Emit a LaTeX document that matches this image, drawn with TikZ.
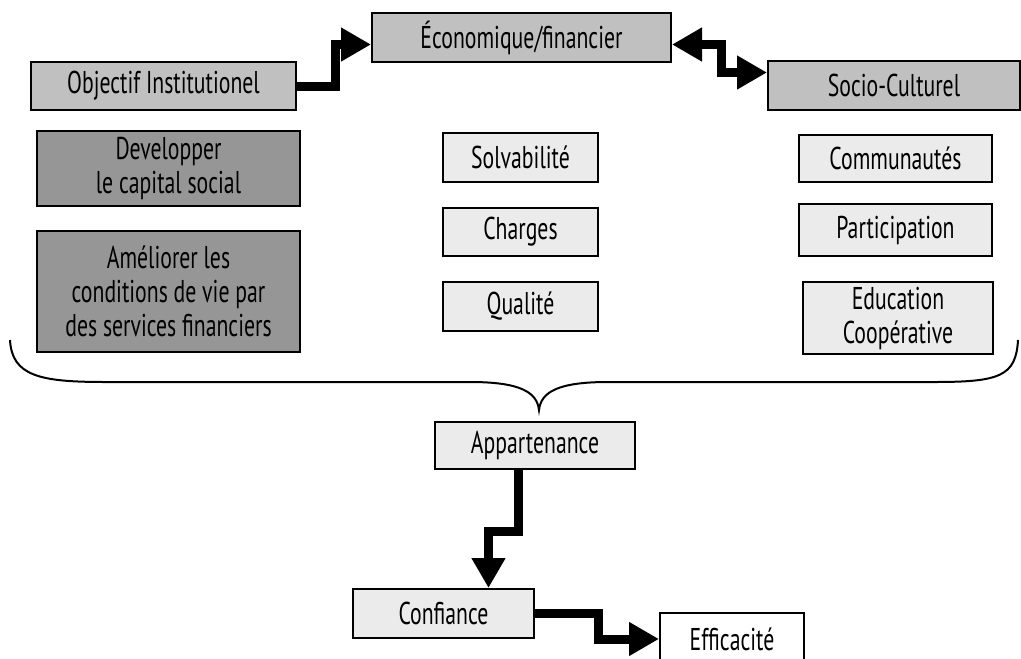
\documentclass[tikz,border=0pt]{standalone}
\usepackage{fontspec}
\setmainfont[FakeStretch=0.69]{PT Sans}
\usetikzlibrary{arrows.meta,positioning}
\definecolor{headgray}{HTML}{C0C0C0}
\definecolor{goalgray}{HTML}{969696}
\definecolor{palegray}{HTML}{EBEBEB}
\definecolor{ink}{HTML}{000000}
\tikzset{
  basebox/.style={
    draw=ink,
    line width=2pt,
    inner sep=0pt,
    align=center,
    font=\fontsize{31.5}{34}\selectfont
  },
  headbox/.style={basebox, fill=headgray, minimum height=49pt},
  goalbox/.style={basebox, fill=goalgray, minimum width=263pt},
  itembox/.style={basebox, fill=palegray, minimum height=49pt},
  stairarrow/.style={-{Triangle[length=30pt,width=32pt]}, line width=9pt, draw=ink},
  bracket/.style={draw=ink, line width=2pt}
}

\begin{document}
\begin{tikzpicture}[x=1pt, y=-1pt, node distance=24pt]
\path[use as bounding box, clip] (0,0) rectangle (1021,659);
% top row
\node[headbox, minimum width=265pt, minimum height=48pt] (obj) at (163.5,86) {Objectif Institutionel};
\node[headbox, minimum width=299pt] (eco) at (521.5,37.5) {Économique/financier};
\node[headbox, minimum width=252pt] (soc) at (894,85.5) {Socio-Culturel};
% three columns
\node[goalbox, minimum height=75pt] (dev) at (168.5,168.5) {Developper\\le capital social};
\node[goalbox, minimum height=121pt, below=23pt of dev] (ame) {Améliorer les\\conditions de vie par\\des services financiers};
\node[itembox, minimum width=155pt] (solv) at (520.5,157.5) {Solvabilité};
\node[itembox, minimum width=155pt, minimum height=48pt, below=of solv] (charg) {Charges};
\node[itembox, minimum width=155pt, below=of charg] (qual) {Qualité};
\node[itembox, minimum width=193pt, minimum height=47pt] (comm) at (895.5,158.5) {Communautés};
\node[itembox, minimum width=193pt, minimum height=52pt, below=20pt of comm] (part) {Participation};
\node[itembox, minimum width=190pt, minimum height=72pt, below=of part, xshift=2.5pt] (educ) {Education\\Coopérative};
% chain at the bottom
\node[itembox, minimum width=200pt, minimum height=47pt] (app) at (535,445.5) {Appartenance};
\node[itembox, minimum width=181pt] (conf) at (443.5,613.5) {Confiance};
\node[basebox, fill=white, minimum width=144pt, minimum height=52pt] (eff) at (732,639) {Efficacité};

\draw[stairarrow] (obj.east) -- ++(38,0) |- ([yshift=-7pt]eco.west);
\draw[stairarrow, {Triangle[length=30pt,width=32pt]}-{Triangle[length=30pt,width=32pt]}]
  ([yshift=-7pt]eco.east) -- ++(49,0) |- ([yshift=13pt]soc.west);
\draw[stairarrow] ([xshift=-17pt]app.south) -- ++(0,61) -| ([xshift=45pt]conf.north);
\draw[stairarrow] (conf.east) -- ++(63,0) |- (eff.west);

% brace
\draw[bracket] (10,340) .. controls (12,376) and (40,382) .. (105,382) -- (470,382)
  .. controls (520,382) and (537,392) .. (539,410)
  .. controls (541,392) and (558,382) .. (608,382) -- (935,382)
  .. controls (1000,382) and (1016,376) .. (1018,340);
\end{tikzpicture}
\end{document}
